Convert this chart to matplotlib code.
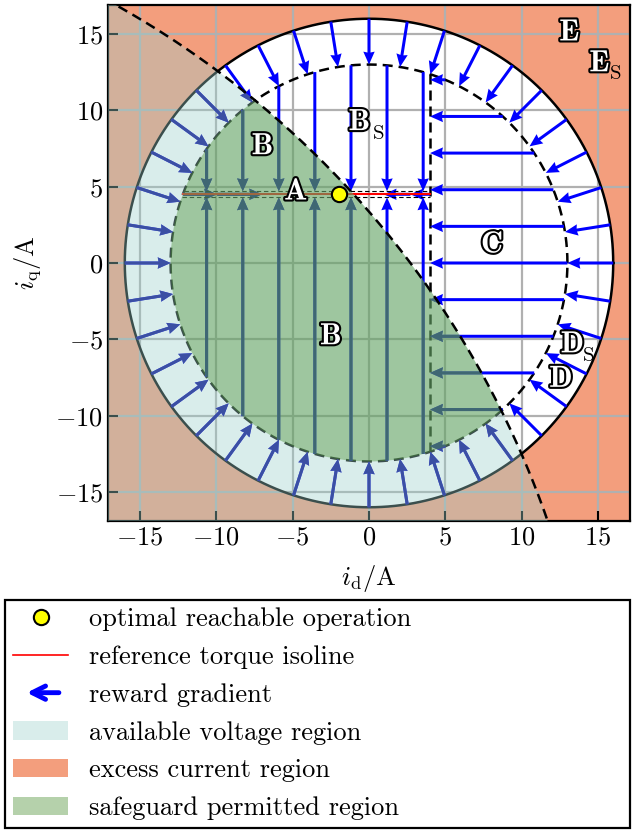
import numpy as np
import matplotlib
matplotlib.use("Agg")
import matplotlib.pyplot as plt
import matplotlib.patheffects as pe
from matplotlib.patches import Circle, Patch, FancyArrowPatch
from matplotlib.lines import Line2D
from matplotlib.legend_handler import HandlerPatch

plt.rcParams.update({
    "font.family": "serif",
    "font.serif": ["cmr10"],
    "mathtext.fontset": "cm",
    "axes.formatter.use_mathtext": True,
    "font.size": 19,
})

# operating limits (A)
r_max = 16.0          # current limit
r_safe = 13.0         # safeguard current limit
id_limit = 4.0        # safeguard d-current limit
iq_ref = 4.5          # reference torque isoline
band_hw = 0.2         # tolerance band around the isoline
volt_center = (-47.0, -37.3)
volt_radius = 62.15
opt_point = (-1.95, 4.5)

# reward gradient sampling
ring_angle_deg = list(range(0, 360, 9))
vert_x = [-10.64, -8.27, -5.91, -3.55, -1.18, 1.18, 3.55]
horiz_y = [-12.0, -9.6, -7.2, -4.8, -2.4, 0.0, 2.4, 4.8, 7.2, 9.6, 12.0]
iso_tail_x = [-12.18, -9.95, 4.0, 2.71]
iso_head_x = [-9.95, -7.0, 2.71, 0.96]

ticks = [-15, -10, -5, 0, 5, 10, 15]

c_orange = "#F39E7D"
c_lightblue = "#9DD0CC"
a_lightblue = 0.38
c_green = "#468C2D"
a_green = 0.4
dash = (0, (4.0, 2.4))

fig = plt.figure(figsize=(6.38, 8.32), dpi=100)
ax = fig.add_axes([108 / 638, 1 - 521 / 832, 522 / 638, 516 / 832])
ax.set_xlim(-17.1, 17.1)
ax.set_ylim(-16.9, 16.9)
ax.set_facecolor(c_orange)
ax.add_patch(Circle((0, 0), r_max, fc="white", ec="none", zorder=1))
ax.grid(True, color="#b0b0b0", lw=1.6)
ax.set_xticks(ticks)
ax.set_yticks(ticks)
ax.tick_params(direction="in", length=7, width=1.5, labelsize=19)
for s in ax.spines.values():
    s.set_linewidth(1.6)

t = np.linspace(0, 2 * np.pi, 721)
ax.plot(r_max * np.cos(t), r_max * np.sin(t), color="k", lw=1.8, zorder=2)
ax.plot(r_safe * np.cos(t), r_safe * np.sin(t), color="k", lw=1.8, ls=dash, zorder=2)
y_end = np.sqrt(r_safe**2 - id_limit**2)
ax.plot([id_limit, id_limit], [-y_end, y_end], color="k", lw=1.8, ls=dash, zorder=2)

# torque isoline with its band
for yb in (iq_ref - band_hw, iq_ref + band_hw):
    ax.plot([-np.sqrt(r_safe**2 - yb**2), id_limit], [yb, yb], color="k",
            lw=0.8, ls=(0, (4, 2.5)), zorder=2.3)
ax.plot([-np.sqrt(r_safe**2 - iq_ref**2), id_limit], [iq_ref, iq_ref],
        color="red", lw=1.5, zorder=2.3)

# arrows: tails and vectors
X, Y, U, V = [], [], [], []
for a in np.deg2rad(ring_angle_deg):
    X.append(r_max * np.cos(a)); Y.append(r_max * np.sin(a))
    U.append((r_safe - r_max) * np.cos(a)); V.append((r_safe - r_max) * np.sin(a))
for x in vert_x:
    y0 = np.sqrt(r_safe**2 - x**2)
    X += [x, x]; Y += [y0, -y0]
    U += [0, 0]; V += [iq_ref + band_hw - y0, iq_ref - band_hw + y0]
for y in horiz_y:
    x0 = np.sqrt(r_safe**2 - y**2)
    X.append(x0); Y.append(y); U.append(id_limit - x0); V.append(0)
for x0, x1 in zip(iso_tail_x, iso_head_x):
    X.append(x0); Y.append(iq_ref); U.append(x1 - x0); V.append(0)

qkw = dict(angles="xy", scale_units="xy", scale=1, units="dots", width=3,
           headwidth=3.8, headlength=4.3, headaxislength=4.0)
ax.quiver(X, Y, U, V, color="blue", zorder=2.1, **qkw)
q_in = ax.quiver(X, Y, U, V, color="#00008B", zorder=2.15, **qkw)

# regions
volt = Circle(volt_center, volt_radius, fc=c_lightblue, alpha=a_lightblue,
              ec="none", zorder=3)
ax.add_patch(volt)
q_in.set_clip_path(volt)
safe = Circle((0, 0), r_safe, fc=c_green, alpha=a_green, ec="none", zorder=3.1)
ax.add_patch(safe)
safe.set_clip_path(volt)

tt = np.linspace(0, 2 * np.pi, 4000)
ax.plot(volt_center[0] + volt_radius * np.cos(tt),
        volt_center[1] + volt_radius * np.sin(tt),
        color="k", lw=1.8, ls=dash, zorder=4)

ax.plot(*opt_point, "o", ms=11, mfc="yellow", mec="k", mew=1.5, zorder=5)

# region names
outline = [pe.withStroke(linewidth=3.0, foreground="k")]
labels = [("A", -4.8, 4.65), ("B", -6.98, 7.62), ("B", -0.63, 9.2),
          ("C", 8.06, 1.18), ("B", -2.5, -4.83), ("D", 13.32, -5.36),
          ("D", 12.57, -7.62), ("E", 13.12, 15.07), ("E", 15.09, 13.05)]
for s, x, y in labels:
    ax.text(x, y, s, fontfamily="cmb10", fontsize=22, color="white",
            ha="center", va="center", path_effects=outline, zorder=6)
for x, y in [(0.6, 8.42), (14.42, -6.1), (16.15, 12.4)]:
    ax.text(x, y, "S", fontsize=15, color="k", ha="center", va="center", zorder=6)

ax.set_xlabel(r"$i_\mathrm{d}/\mathrm{A}$", fontsize=19, labelpad=10)
ax.set_ylabel(r"$i_\mathrm{q}/\mathrm{A}$", fontsize=19, labelpad=9)


def make_arrow(legend, orig_handle, xdescent, ydescent, width, height, fontsize):
    yc = -ydescent + height / 2
    return FancyArrowPatch((-xdescent + 0.2 * width, yc),
                           (-xdescent + 0.88 * width, yc),
                           arrowstyle="<-", mutation_scale=24)


h_opt = Line2D([], [], ls="none", marker="o", ms=11, mfc="yellow", mec="k", mew=1.5)
h_iso = Line2D([], [], color="red", lw=1.2)
h_grad = FancyArrowPatch((0, 0), (1, 0), arrowstyle="<-", color="blue", lw=3.5,
                         capstyle="round", joinstyle="round")
h_volt = Patch(fc=c_lightblue, alpha=a_lightblue, ec="none")
h_cur = Patch(fc=c_orange, ec="none")
h_safe = Patch(fc=c_green, alpha=a_green, ec="none")

leg = fig.legend(
    [h_opt, h_iso, h_grad, h_volt, h_cur, h_safe],
    ["optimal reachable operation", "reference torque isoline", "reward gradient",
     "available voltage region", "excess current region", "safeguard permitted region"],
    loc="lower left", bbox_to_anchor=(5 / 638, 4 / 832, 625 / 638, 0.27),
    mode="expand", borderaxespad=0, fontsize=19, handlelength=2.1,
    handletextpad=0.8, labelspacing=0.53, borderpad=0.3, fancybox=False,
    edgecolor="k", framealpha=1,
    handler_map={FancyArrowPatch: HandlerPatch(patch_func=make_arrow)})
leg.get_frame().set_linewidth(1.6)

fig.savefig("out.png", dpi=100)
